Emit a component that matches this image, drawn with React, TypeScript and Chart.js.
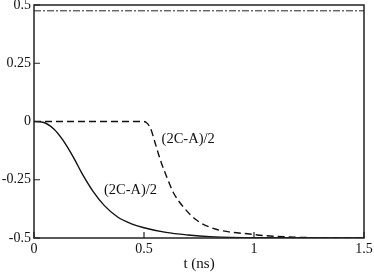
import React, { useEffect, useRef } from "react";
import { Chart, registerables } from "chart.js";

Chart.register(...registerables);

// Solid curve (2C-A)/2
const solidT = [0, 0.04, 0.09, 0.13, 0.18, 0.22, 0.27, 0.32, 0.38, 0.44, 0.5, 0.6, 0.7, 0.8, 1.0, 1.5];
const solidV = [0, -0.003, -0.032, -0.078, -0.155, -0.226, -0.302, -0.361, -0.41, -0.438, -0.456, -0.476, -0.487, -0.494, -0.499, -0.5];

// Dashed curve (2C-A)/2
const dashedT = [0, 0.5, 0.515, 0.53, 0.55, 0.575, 0.605, 0.635, 0.68, 0.74, 0.815, 0.89, 0.97, 1.05, 1.2, 1.5];
const dashedV = [0, 0, -0.008, -0.03, -0.09, -0.167, -0.242, -0.308, -0.368, -0.424, -0.459, -0.474, -0.482, -0.49, -0.497, -0.5];

// Dash-dot reference level
const refT = [0, 1.5];
const refV = [0.475, 0.475];

const xTicks = [0, 0.5, 1, 1.5];
const xTickLabels = ["0", "0.5", "1", "1.5"];
const yTicks = [-0.5, -0.25, 0, 0.25, 0.5];
const yTickLabels = ["-0.5", "-0.25", "0", "0.25", "0.5"];

const curveLabels = ["(2C-A)/2", "(2C-A)/2"];
const labelT = [0.318, 0.58];
const labelV = [-0.294, -0.076];

const FONT = "'Liberation Serif', 'DejaVu Serif', serif";

const toPoints = (t: number[], v: number[]) => t.map((x, i) => ({ x, y: v[i] }));

const framePlugin = {
  id: "frame",
  afterDatasetsDraw(chart: any) {
    const { ctx, chartArea, scales } = chart;
    const { left, right, top, bottom } = chartArea;
    ctx.save();
    ctx.strokeStyle = "#222";
    ctx.lineWidth = 1.5;
    ctx.setLineDash([]);
    ctx.strokeRect(left, top, right - left, bottom - top);
    ctx.lineWidth = 1.2;
    ctx.beginPath();
    for (const v of yTicks) {
      const y = scales.y.getPixelForValue(v);
      ctx.moveTo(left, y);
      ctx.lineTo(left + 6, y);
    }
    for (const v of xTicks) {
      const x = scales.x.getPixelForValue(v);
      ctx.moveTo(x, bottom);
      ctx.lineTo(x, bottom - 6);
    }
    ctx.stroke();
    ctx.fillStyle = "#111";
    ctx.font = `14.5px ${FONT}`;
    ctx.textAlign = "left";
    ctx.textBaseline = "middle";
    curveLabels.forEach((txt, i) => {
      ctx.fillText(txt, scales.x.getPixelForValue(labelT[i]), scales.y.getPixelForValue(labelV[i]));
    });
    ctx.restore();
  },
};

export default function App() {
  const ref = useRef<HTMLCanvasElement | null>(null);
  useEffect(() => {
    document.body.style.margin = "0";
    const canvas = ref.current;
    if (!canvas) return;
    const chart = new Chart(canvas, {
      type: "scatter",
      data: {
        datasets: [
          {
            data: toPoints(refT, refV),
            showLine: true,
            borderColor: "#222",
            borderWidth: 1,
            borderDash: [7, 2, 2, 2],
            pointRadius: 0,
          },
          {
            data: toPoints(dashedT, dashedV),
            showLine: true,
            borderColor: "#111",
            borderWidth: 1.4,
            borderDash: [7, 4],
            pointRadius: 0,
            cubicInterpolationMode: "monotone",
          },
          {
            data: toPoints(solidT, solidV),
            showLine: true,
            borderColor: "#111",
            borderWidth: 1.4,
            pointRadius: 0,
            cubicInterpolationMode: "monotone",
          },
        ],
      },
      options: {
        animation: false,
        responsive: true,
        maintainAspectRatio: false,
        layout: { padding: { top: 5, right: 10, left: 0, bottom: 0 } },
        plugins: { legend: { display: false }, tooltip: { enabled: false } },
        scales: {
          x: {
            type: "linear",
            min: 0,
            max: 1.5,
            grid: { display: false, drawTicks: false },
            border: { display: false },
            afterBuildTicks: (s: any) => {
              s.ticks = xTicks.map((value) => ({ value }));
            },
            afterFit: (s: any) => {
              s.height = 35;
              s.paddingLeft = 0;
              s.paddingRight = 0;
            },
            ticks: {
              padding: 3,
              color: "#111",
              font: { family: FONT, size: 14 },
              maxRotation: 0,
              callback: (v: any) => {
                const i = xTicks.indexOf(Number(v));
                return i >= 0 ? xTickLabels[i] : "";
              },
            },
            title: {
              display: true,
              text: "t (ns)",
              color: "#111",
              font: { family: FONT, size: 15 },
              padding: { top: 0, bottom: 0 },
            },
          },
          y: {
            type: "linear",
            min: -0.5,
            max: 0.5,
            grid: { display: false, drawTicks: false },
            border: { display: false },
            afterBuildTicks: (s: any) => {
              s.ticks = yTicks.map((value) => ({ value }));
            },
            afterFit: (s: any) => {
              s.width = 34;
              s.paddingTop = 0;
              s.paddingBottom = 0;
            },
            ticks: {
              padding: 3,
              color: "#111",
              font: { family: FONT, size: 14 },
              callback: (v: any) => {
                const i = yTicks.indexOf(Number(v));
                return i >= 0 ? yTickLabels[i] : "";
              },
            },
          },
        },
      },
      plugins: [framePlugin],
    } as any);
    return () => chart.destroy();
  }, []);
  return (
    <div style={{ width: 374, height: 273, position: "relative" }}>
      <canvas ref={ref} />
    </div>
  );
}
